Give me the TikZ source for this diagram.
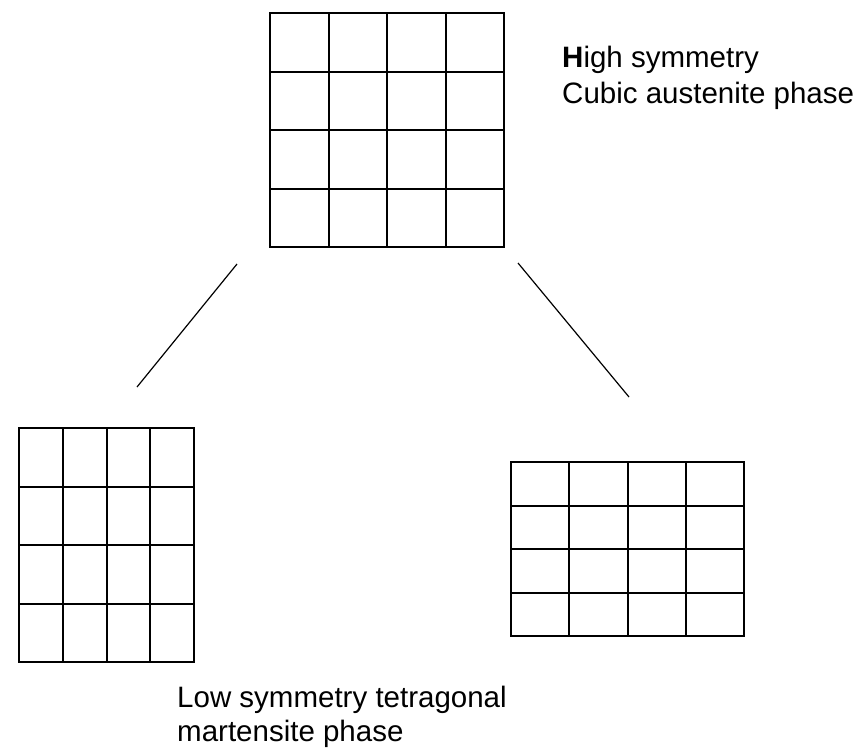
\documentclass[tikz,border=0pt]{standalone}
\usepackage{fontspec}
\setmainfont{Liberation Sans}
\usetikzlibrary{calc}
\begin{document}
\begin{tikzpicture}[x=1pt,y=-1pt,
  lattice/.style={draw=black, line width=2pt, inner sep=0pt, path picture={
    \foreach \t in {0.25,0.5,0.75}{
      \draw[line width=2pt] ($(path picture bounding box.north west)!\t!(path picture bounding box.north east)$) -- ($(path picture bounding box.south west)!\t!(path picture bounding box.south east)$);
      \draw[line width=2pt] ($(path picture bounding box.north west)!\t!(path picture bounding box.south west)$) -- ($(path picture bounding box.north east)!\t!(path picture bounding box.south east)$);
    }}},
  caption/.style={inner sep=0pt, anchor=base west, font=\fontsize{29.5}{36}\selectfont},
  link/.style={draw=black, line width=1.2pt}]
\useasboundingbox (0,0) rectangle (864,747);
\fill[white] (0,0) rectangle (864,747);

\node[lattice, minimum width=234pt, minimum height=234pt] (cubic) at (387,130) {};
\node[lattice, minimum width=175pt, minimum height=234pt] (tetA) at (106.5,545) {};
\node[lattice, minimum width=233pt, minimum height=174pt] (tetB) at (627.5,549) {};

\node[caption] (hs1) at (562,67) {\textbf{H}igh symmetry};
\node[caption] (hs2) at (562,103) {Cubic austenite phase};
\node[caption] (ls1) at (177,707) {Low symmetry tetragonal};
\node[caption] (ls2) at (177,741) {martensite phase};

\coordinate (la) at (237,264);
\coordinate (lb) at (137,387);
\coordinate (ra) at (518,263);
\coordinate (rb) at (629,397);
\draw[link] (la) -- (lb);
\draw[link] (ra) -- (rb);
\end{tikzpicture}
\end{document}
